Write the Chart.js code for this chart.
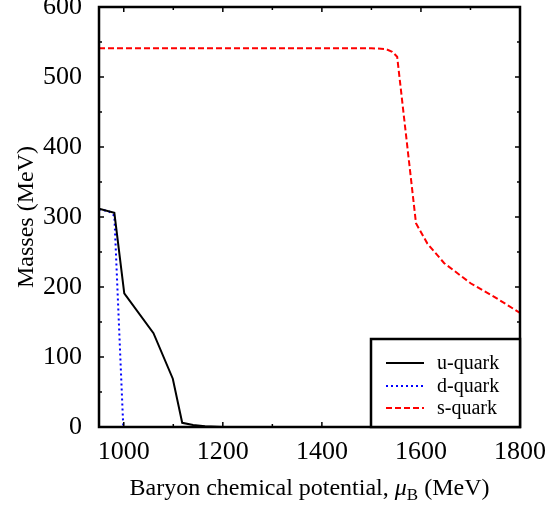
<!DOCTYPE html>
<html>
<head>
<meta charset="utf-8">
<script src="https://cdn.jsdelivr.net/npm/chart.js@4"></script>
<style>
  html, body { margin: 0; padding: 0; background: #fff; }
  #wrap { width: 550px; height: 508px; }
</style>
</head>
<body>
<div id="wrap"><canvas id="massChart" width="550" height="508"></canvas></div>
<script>
// Quark masses vs baryon chemical potential
const uMu   = [950, 981, 1001, 1060, 1099, 1118, 1140, 1164, 1200, 1800];
const uMass = [312, 306, 191, 134, 69, 6, 3, 1, 0, 0];

const dMu   = [950, 970, 981, 999, 1200];
const dMass = [311, 308, 302, 0, 0];

const sMu   = [950, 1500, 1529, 1542, 1552, 1590, 1613, 1647, 1701, 1748, 1800];
const sMass = [541, 541, 540, 536, 529, 291, 262, 234, 205, 186, 163];

const xTicks = [1000, 1200, 1400, 1600, 1800];
const yTicks = [0, 100, 200, 300, 400, 500, 600];
const xMinor = [1100, 1300, 1500, 1700];
const yMinor = [50, 150, 250, 350, 450, 550];

const SERIF = "'Liberation Serif', 'Times New Roman', serif";

const toPoints = (xs, ys) => xs.map((x, i) => ({ x, y: ys[i] }));

// inward tick marks + box frame round the plot
const framePlugin = {
  id: 'frame',
  afterDatasetsDraw(chart) {
    const { ctx, chartArea: a, scales } = chart;
    ctx.save();
    ctx.strokeStyle = '#000';
    ctx.lineWidth = 1.5;
    const tick = (vals, len, horiz) => {
      vals.forEach(v => {
        ctx.beginPath();
        if (horiz) {
          const px = scales.x.getPixelForValue(v);
          ctx.moveTo(px, a.bottom); ctx.lineTo(px, a.bottom - len);
          ctx.moveTo(px, a.top); ctx.lineTo(px, a.top + len);
        } else {
          const py = scales.y.getPixelForValue(v);
          ctx.moveTo(a.left, py); ctx.lineTo(a.left + len, py);
          ctx.moveTo(a.right, py); ctx.lineTo(a.right - len, py);
        }
        ctx.stroke();
      });
    };
    tick(xTicks, 5, true);
    tick(xMinor, 3, true);
    tick(yTicks, 5, false);
    tick(yMinor, 3, false);
    ctx.lineWidth = 2.5;
    ctx.strokeRect(a.left, a.top, a.right - a.left, a.bottom - a.top);
    ctx.restore();
  }
};

// x axis title with a real subscript on mu
const xTitlePlugin = {
  id: 'xTitle',
  afterDraw(chart) {
    const { ctx, chartArea: a } = chart;
    const parts = [
      { t: 'Baryon chemical potential, ', f: '24px ' + SERIF, dy: 0 },
      { t: '\u03bc', f: 'italic 24px ' + SERIF, dy: 0 },
      { t: 'B', f: '17px ' + SERIF, dy: 5 },
      { t: ' (MeV)', f: '24px ' + SERIF, dy: 0 },
    ];
    ctx.save();
    ctx.fillStyle = '#000';
    ctx.textBaseline = 'alphabetic';
    ctx.textAlign = 'left';
    let total = 0;
    parts.forEach(p => { ctx.font = p.f; p.w = ctx.measureText(p.t).width; total += p.w; });
    let x = (a.left + a.right) / 2 - total / 2;
    const base = 495;
    parts.forEach(p => {
      ctx.font = p.f;
      ctx.fillText(p.t, x, base + p.dy);
      x += p.w;
    });
    ctx.restore();
  }
};

// legend box in the lower right corner of the plot
const legendPlugin = {
  id: 'boxLegend',
  afterDraw(chart) {
    const { ctx, chartArea: a } = chart;
    const w = 149, h = 88;
    const left = a.right - w, top = a.bottom - h;
    ctx.save();
    ctx.fillStyle = '#fff';
    ctx.fillRect(left, top, w, h);
    ctx.strokeStyle = '#000';
    ctx.lineWidth = 2.5;
    ctx.strokeRect(left, top, w, h);
    const rows = [24, 47, 69];
    ctx.font = '20px ' + SERIF;
    ctx.textBaseline = 'middle';
    ctx.textAlign = 'left';
    chart.data.datasets.forEach((ds, i) => {
      const y = top + rows[i];
      ctx.beginPath();
      ctx.strokeStyle = ds.borderColor;
      ctx.lineWidth = ds.borderWidth;
      ctx.setLineDash(ds.borderDash || []);
      ctx.moveTo(left + 15, y);
      ctx.lineTo(left + 53, y);
      ctx.stroke();
      ctx.setLineDash([]);
      ctx.fillStyle = '#000';
      ctx.fillText(ds.label, left + 66, y + 1);
    });
    ctx.restore();
  }
};

new Chart(document.getElementById('massChart'), {
  type: 'line',
  data: {
    datasets: [
      {
        label: 'u-quark',
        data: toPoints(uMu, uMass),
        borderColor: '#000000',
        borderWidth: 2,
        pointRadius: 0,
        fill: false,
      },
      {
        label: 'd-quark',
        data: toPoints(dMu, dMass),
        borderColor: '#0000ff',
        borderWidth: 2,
        borderDash: [2, 3],
        pointRadius: 0,
        fill: false,
      },
      {
        label: 's-quark',
        data: toPoints(sMu, sMass),
        borderColor: '#ff0000',
        borderWidth: 2,
        borderDash: [6, 3],
        pointRadius: 0,
        fill: false,
      }
    ]
  },
  options: {
    responsive: false,
    animation: false,
    layout: { padding: { top: 7, right: 30, left: 0, bottom: 0 } },
    plugins: {
      legend: { display: false },
      tooltip: { enabled: false },
    },
    scales: {
      x: {
        type: 'linear',
        min: 950,
        max: 1800,
        grid: { display: false, drawTicks: false },
        border: { display: false },
        afterBuildTicks: s => { s.ticks = xTicks.map(v => ({ value: v })); },
        afterFit: s => { s.height = 81; s.paddingLeft = 0; s.paddingRight = 0; },
        ticks: {
          padding: 10,
          maxRotation: 0,
          autoSkip: false,
          color: '#000',
          font: { family: SERIF, size: 26 },
          callback: v => String(v),
        },
        title: { display: false }
      },
      y: {
        type: 'linear',
        min: 0,
        max: 600,
        grid: { display: false, drawTicks: false },
        border: { display: false },
        afterBuildTicks: s => { s.ticks = yTicks.map(v => ({ value: v })); },
        afterFit: s => { s.width = 99; s.paddingTop = 0; s.paddingBottom = 0; },
        ticks: {
          padding: 17,
          color: '#000',
          font: { family: SERIF, size: 26 },
          callback: v => String(v),
        },
        title: {
          display: true,
          text: 'Masses (MeV)',
          color: '#000',
          font: { family: SERIF, size: 24 },
          padding: { top: 12, bottom: 0 },
        }
      }
    }
  },
  plugins: [framePlugin, xTitlePlugin, legendPlugin]
});
</script>
</body>
</html>
